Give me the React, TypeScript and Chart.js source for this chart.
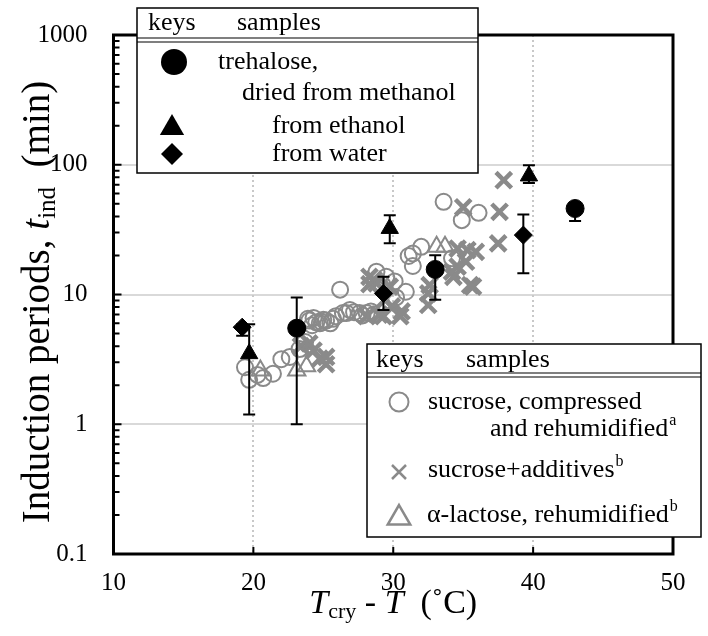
import React, { useEffect, useRef } from 'react';
import { Chart, registerables } from 'chart.js';
Chart.register(...registerables);

const FONT = '"Liberation Serif", "Times New Roman", serif';
const GRAY = '#8a8a8a';

// axis ticks
const xTicks = [10, 20, 30, 40, 50];
const yTicks = [0.1, 1, 10, 100, 1000];
const yTickLabels = ['0.1', '1', '10', '100', '1000'];

// trehalose, dried from methanol (black circles)
const methX = [23.1, 33.0, 43.0];
const methY = [5.5, 15.6, 46];
const methLo = [1.0, 9.1, 36.8];
const methHi = [9.5, 20.1, 50.6];

// trehalose, from ethanol (black triangles)
const ethX = [19.7, 29.75, 39.7];
const ethY = [3.5, 32.3, 82];
const ethLo = [1.19, 24.8, 72.4];
const ethHi = [5.9, 40.9, 99];

// trehalose, from water (black diamonds)
const watX = [19.2, 29.3, 39.3];
const watY = [5.6, 10.2, 28.7];
const watLo = [4.8, 7.6, 14.6];
const watHi = [5.9, 13.7, 41.4];

// sucrose, compressed and rehumidified (gray open circles)
const sucX = [19.4, 19.7, 20.3, 20.7, 21.4, 22.0, 22.6, 23.3, 23.7, 23.9, 24.0, 24.2, 24.3, 24.5, 24.75, 24.9, 25.0, 25.2, 25.5, 25.7, 25.9, 26.2, 26.4, 26.65, 26.9, 27.2, 27.6, 27.8, 28.1, 28.4, 28.6, 28.8, 29.2, 29.5, 30.1, 30.2, 30.9, 31.1, 31.4, 31.4, 32.0, 34.2, 33.6, 34.9, 36.1];
const sucY = [2.75, 2.2, 2.4, 2.27, 2.45, 3.17, 3.3, 3.8, 4.3, 6.5, 6.3, 5.8, 6.6, 6.1, 6.0, 6.1, 6.4, 6.3, 6.0, 6.5, 6.8, 10.9, 7.2, 7.2, 7.6, 7.3, 7.2, 6.9, 7.2, 7.4, 7.0, 15.0, 12.0, 13.7, 12.6, 9.5, 10.5, 19.8, 16.6, 20.7, 23.3, 19.0, 51.8, 37.4, 42.6];

// sucrose + additives (gray crosses)
const addX = [23.4, 24.0, 24.3, 24.75, 25.2, 25.2, 28.1, 28.3, 28.3, 28.6, 28.8, 29.0, 29.3, 29.4, 29.75, 29.9, 30.5, 30.6, 32.5, 32.5, 32.6, 34.2, 34.3, 34.6, 34.6, 35.2, 35.3, 35.9, 35.5, 35.7, 35.0, 37.5, 37.6, 37.9];
const addY = [4.0, 4.2, 3.7, 3.2, 3.3, 2.9, 6.8, 13.7, 12.0, 13.0, 12.2, 7.0, 6.8, 9.1, 11.5, 8.1, 6.8, 7.4, 8.3, 10.2, 11.8, 15.0, 13.7, 16.4, 22.6, 17.9, 22.0, 21.3, 11.8, 11.5, 47, 24.8, 43.4, 76];

// alpha-lactose, rehumidified (gray open triangles)
const lacX = [20.5, 23.1, 23.8, 33.1, 33.7];
const lacY = [2.6, 2.6, 2.8, 23.3, 23.3];

const pts = (xs: number[], ys: number[]) => xs.map((x, i) => ({ x, y: ys[i] }));

const errorSeries = [
  { xs: methX, lo: methLo, hi: methHi },
  { xs: ethX, lo: ethLo, hi: ethHi },
  { xs: watX, lo: watLo, hi: watHi },
];

type Run = { t: string; size: number; italic?: boolean; dy?: number };

function drawRuns(ctx: CanvasRenderingContext2D, runs: Run[], cx: number, cy: number) {
  ctx.textBaseline = 'middle';
  ctx.textAlign = 'left';
  let total = 0;
  const widths = runs.map((r) => {
    ctx.font = `${r.italic ? 'italic ' : ''}${r.size}px ${FONT}`;
    const w = ctx.measureText(r.t).width;
    total += w;
    return w;
  });
  let x = cx - total / 2;
  runs.forEach((r, i) => {
    ctx.font = `${r.italic ? 'italic ' : ''}${r.size}px ${FONT}`;
    ctx.fillText(r.t, x, cy + (r.dy || 0));
    x += widths[i];
  });
}

function textAt(ctx: CanvasRenderingContext2D, t: string, x: number, y: number, sup?: string) {
  ctx.font = `26px ${FONT}`;
  ctx.textBaseline = 'middle';
  ctx.textAlign = 'left';
  ctx.fillStyle = '#000';
  ctx.fillText(t, x, y);
  if (sup) {
    const w = ctx.measureText(t).width;
    ctx.font = `16px ${FONT}`;
    ctx.fillText(sup, x + w + 1, y - 8);
  }
}

function triPath(ctx: CanvasRenderingContext2D, x: number, y: number, r: number) {
  ctx.beginPath();
  for (let k = 0; k < 3; k++) {
    const a = -Math.PI / 2 + (k * 2 * Math.PI) / 3;
    const px = x + Math.cos(a) * r;
    const py = y + Math.sin(a) * r;
    if (k === 0) ctx.moveTo(px, py);
    else ctx.lineTo(px, py);
  }
  ctx.closePath();
}

function legendBox(ctx: CanvasRenderingContext2D, x: number, y: number, w: number, h: number, headY: number, line1: number, keysX: number, samplesX: number) {
  ctx.save();
  ctx.fillStyle = '#fff';
  ctx.fillRect(x, y, w, h);
  ctx.strokeStyle = '#000';
  ctx.lineWidth = 1.5;
  ctx.strokeRect(x, y, w, h);
  ctx.beginPath();
  ctx.moveTo(x, line1);
  ctx.lineTo(x + w, line1);
  ctx.moveTo(x, line1 + 4);
  ctx.lineTo(x + w, line1 + 4);
  ctx.lineWidth = 1.2;
  ctx.stroke();
  textAt(ctx, 'keys', keysX, headY);
  textAt(ctx, 'samples', samplesX, headY);
  ctx.restore();
}

const customPlugin = {
  id: 'custom',
  beforeDatasetsDraw(chart: any) {
    const { ctx, chartArea: a, scales } = chart;
    const xs = scales.x;
    const ys = scales.y;
    ctx.save();
    ctx.strokeStyle = '#d9d9d9';
    ctx.lineWidth = 2;
    [1, 10, 100].forEach((v) => {
      const y = Math.round(ys.getPixelForValue(v));
      ctx.beginPath();
      ctx.moveTo(a.left, y);
      ctx.lineTo(a.right, y);
      ctx.stroke();
    });
    ctx.strokeStyle = '#c8c8c8';
    ctx.setLineDash([2, 3]);
    [20, 30, 40].forEach((v) => {
      const x = Math.round(xs.getPixelForValue(v));
      ctx.beginPath();
      ctx.moveTo(x, a.top);
      ctx.lineTo(x, a.bottom);
      ctx.stroke();
    });
    ctx.restore();
  },
  beforeDatasetDraw(chart: any, args: any) {
    if (args.index !== 2) return;
    const { ctx, scales } = chart;
    const xs = scales.x;
    const ys = scales.y;
    ctx.save();
    ctx.strokeStyle = '#000';
    ctx.lineWidth = 2;
    errorSeries.forEach((s) => {
      s.xs.forEach((xv, i) => {
        const x = xs.getPixelForValue(xv);
        const y1 = ys.getPixelForValue(s.lo[i]);
        const y2 = ys.getPixelForValue(s.hi[i]);
        ctx.beginPath();
        ctx.moveTo(x, y1);
        ctx.lineTo(x, y2);
        ctx.moveTo(x - 6, y1);
        ctx.lineTo(x + 6, y1);
        ctx.moveTo(x - 6, y2);
        ctx.lineTo(x + 6, y2);
        ctx.stroke();
      });
    });
    ctx.restore();
  },
  afterDraw(chart: any) {
    const { ctx, chartArea: a, scales } = chart;
    const xs = scales.x;
    const ys = scales.y;
    ctx.save();
    // frame
    ctx.strokeStyle = '#000';
    ctx.lineWidth = 3;
    ctx.strokeRect(a.left, a.top, a.right - a.left, a.bottom - a.top);
    // inward ticks
    ctx.lineWidth = 2;
    ctx.beginPath();
    [0.1, 1, 10, 100].forEach((d) => {
      for (let k = 1; k <= 9; k++) {
        const y = ys.getPixelForValue(d * k);
        ctx.moveTo(a.left, y);
        ctx.lineTo(a.left + (k === 1 ? 8 : 6), y);
      }
    });
    [20, 30, 40].forEach((v) => {
      const x = xs.getPixelForValue(v);
      ctx.moveTo(x, a.bottom);
      ctx.lineTo(x, a.bottom - 7);
    });
    ctx.stroke();

    // axis titles
    ctx.fillStyle = '#000';
    ctx.save();
    ctx.translate(39, 302);
    ctx.rotate(-Math.PI / 2);
    drawRuns(ctx, [
      { t: 'Induction periods, ', size: 39 },
      { t: 't', size: 39, italic: true },
      { t: 'ind', size: 25, dy: 9 },
      { t: '  (min)', size: 39 },
    ], 0, 0);
    ctx.restore();
    drawRuns(ctx, [
      { t: 'T', size: 34, italic: true },
      { t: 'cry', size: 22, dy: 8 },
      { t: ' - ', size: 34 },
      { t: 'T', size: 34, italic: true },
      { t: '  (˚C)', size: 34 },
    ], (a.left + a.right) / 2, 604);

    // top legend
    legendBox(ctx, 137, 8, 341, 165, 23, 38, 148, 237);
    ctx.fillStyle = '#000';
    ctx.beginPath();
    ctx.arc(174, 62, 13, 0, Math.PI * 2);
    ctx.fill();
    textAt(ctx, 'trehalose,', 218, 62);
    textAt(ctx, 'dried from methanol', 242, 93);
    ctx.fillStyle = '#000';
    triPath(ctx, 172, 128, 14);
    ctx.fill();
    textAt(ctx, 'from ethanol', 272, 126);
    ctx.fillStyle = '#000';
    ctx.beginPath();
    ctx.moveTo(172, 143);
    ctx.lineTo(183, 154);
    ctx.lineTo(172, 165);
    ctx.lineTo(161, 154);
    ctx.closePath();
    ctx.fill();
    textAt(ctx, 'from water', 272, 154);

    // bottom legend
    legendBox(ctx, 367, 344, 334, 193, 360, 373, 376, 466);
    ctx.strokeStyle = GRAY;
    ctx.lineWidth = 2;
    ctx.beginPath();
    ctx.arc(399, 402, 9.5, 0, Math.PI * 2);
    ctx.stroke();
    textAt(ctx, 'sucrose, compressed', 428, 402);
    textAt(ctx, 'and rehumidified', 490, 429, 'a');
    ctx.strokeStyle = GRAY;
    ctx.lineWidth = 2.5;
    ctx.beginPath();
    ctx.moveTo(392, 465);
    ctx.lineTo(406, 479);
    ctx.moveTo(406, 465);
    ctx.lineTo(392, 479);
    ctx.stroke();
    textAt(ctx, 'sucrose+additives', 428, 470, 'b');
    ctx.strokeStyle = GRAY;
    ctx.lineWidth = 2.5;
    triPath(ctx, 399, 518, 13);
    ctx.stroke();
    textAt(ctx, 'α-lactose, rehumidified', 427, 515, 'b');
    ctx.restore();
  },
};

export default function App() {
  const ref = useRef<HTMLCanvasElement>(null);
  useEffect(() => {
    const findLabel = (v: number) => {
      const i = yTicks.findIndex((t) => Math.abs(Math.log10(t) - Math.log10(v)) < 1e-6);
      return i >= 0 ? yTickLabels[i] : '';
    };
    const chart = new Chart(ref.current as HTMLCanvasElement, {
      type: 'scatter',
      data: {
        datasets: [
          { label: 'methanol', data: pts(methX, methY), pointStyle: 'circle', pointRadius: 9, backgroundColor: '#000', borderColor: '#000', borderWidth: 1 },
          { label: 'ethanol', data: pts(ethX, ethY), pointStyle: 'triangle', pointRadius: 10, backgroundColor: '#000', borderColor: '#000', borderWidth: 1 },
          { label: 'water', data: pts(watX, watY), pointStyle: 'rectRot', pointRadius: 9, backgroundColor: '#000', borderColor: '#000', borderWidth: 1 },
          { label: 'sucrose', data: pts(sucX, sucY), pointStyle: 'circle', pointRadius: 8, backgroundColor: 'rgba(0,0,0,0)', borderColor: GRAY, borderWidth: 2 },
          { label: 'additives', data: pts(addX, addY), pointStyle: 'crossRot', pointRadius: 11, backgroundColor: GRAY, borderColor: GRAY, borderWidth: 4.5 },
          { label: 'lactose', data: pts(lacX, lacY), pointStyle: 'triangle', pointRadius: 10, backgroundColor: 'rgba(0,0,0,0)', borderColor: GRAY, borderWidth: 2 },
        ] as any,
      },
      options: {
        responsive: false,
        animation: false,
        devicePixelRatio: 1,
        layout: { padding: { top: 35, right: 35, left: 0, bottom: 0 } },
        plugins: { legend: { display: false }, tooltip: { enabled: false } },
        scales: {
          x: {
            type: 'linear',
            min: 10,
            max: 50,
            grid: { display: false },
            border: { display: false },
            afterBuildTicks: (s: any) => { s.ticks = xTicks.map((v) => ({ value: v })); },
            afterFit: (s: any) => { s.height = 82; },
            ticks: { font: { family: FONT, size: 25 }, color: '#000', padding: 6, autoSkip: false, maxRotation: 0, callback: (v: any) => String(v) },
          },
          y: {
            type: 'logarithmic',
            min: 0.1,
            max: 1000,
            grid: { display: false },
            border: { display: false },
            afterBuildTicks: (s: any) => { s.ticks = yTicks.map((v) => ({ value: v })); },
            afterFit: (s: any) => { s.width = 113.5; },
            ticks: { font: { family: FONT, size: 25 }, color: '#000', padding: 18, autoSkip: false, callback: (v: any) => findLabel(Number(v)) },
          },
        },
      } as any,
      plugins: [customPlugin],
    });
    return () => chart.destroy();
  }, []);
  return (
    <div style={{ position: 'absolute', left: 0, top: 0, width: 708, height: 636, background: '#fff' }}>
      <canvas ref={ref} width={708} height={636} style={{ width: 708, height: 636, display: 'block' }} />
    </div>
  );
}
